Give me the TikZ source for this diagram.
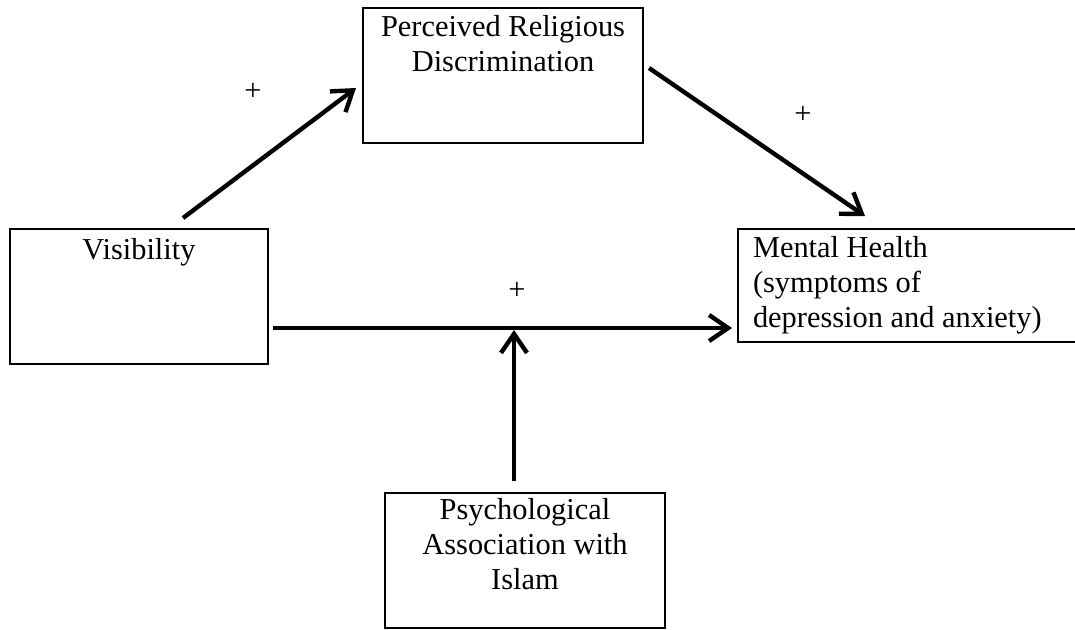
\documentclass[tikz,border=0pt]{standalone}
\usepackage{fontspec}
\setmainfont{Liberation Serif}
\usetikzlibrary{arrows,arrows.meta}

\begin{document}
\begin{tikzpicture}[->,>={Straight Barb[length=9.5pt,width=13pt]},line width=2.2pt,
                    x=0.5pt,y=-0.5pt]
\tikzstyle{every node}=[font=\fontsize{15.2}{17.5}\selectfont,line width=1pt]
  	\tikzstyle{box}=[draw,rectangle,inner sep=0pt,minimum height=67.5pt]
\tikzstyle{txt}=[anchor=north,inner sep=0pt,align=center]
\useasboundingbox (0,0) rectangle (1075,629);

\node [box,minimum width=140pt] (prd) at (503,75.5) {};
\node [box,minimum width=129pt] (vis) at (139,296.5) {};
\node [box,minimum width=173.5pt,minimum height=56.5pt] (mh) at (911.5,285.5) {};
\node [box,minimum width=140pt] (pai) at (525,560.5) {};

\node [txt] (prdtext) at ([yshift=-3.7pt]prd.north) {Perceived Religious\\Discrimination};
\node [txt] (vistext) at ([yshift=-4.7pt]vis.north) {Visibility};
\node [txt,anchor=north west,align=left] (mhtext) at ([xshift=7.5pt,yshift=-3.7pt]mh.north west) {Mental Health\\(symptoms of\\depression and anxiety)};
\node [txt] (paitext) at ([yshift=-2.7pt]pai.north) {Psychological\\Association with\\Islam};

\node (plus1) at (253,92) {+};
\node (plus2) at (803,115) {+};
\node (plus3) at (517,291) {+};

\draw ([xshift=22pt,yshift=5pt]vis.north) -- ([xshift=-3pt,yshift=-6.25pt]prd.west);
\draw ([xshift=2.5pt,yshift=3.75pt]prd.east) -- ([xshift=-23.25pt,yshift=6pt]mh.north);
\draw [shorten >=2.5pt] ([xshift=2pt,yshift=-15.75pt]vis.east) coordinate (h) -- (h -| mh.west);
\draw [shorten >=1pt] ([xshift=-5.5pt,yshift=5.5pt]pai.north) coordinate (v) -- (v |- h);

\end{tikzpicture}
\end{document}
